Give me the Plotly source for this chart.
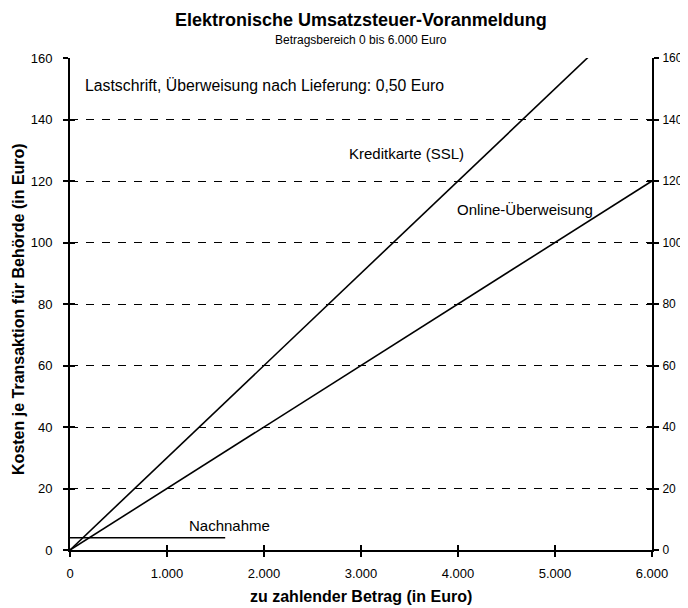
import plotly.graph_objects as go

# Data
betrag = [0, 6000]
kreditkarte = [0, 180]          # 3 % des Betrags
online_ueberweisung = [0, 120]  # 2 % des Betrags
nachnahme_x = [0, 1600]
nachnahme_y = [4, 4]

x_ticks = [0, 1000, 2000, 3000, 4000, 5000, 6000]
y_ticks = [0, 20, 40, 60, 80, 100, 120, 140, 160]

FONT = "Liberation Sans, Arial, sans-serif"
line_style = dict(color="black", width=1.6)

fig = go.Figure()
fig.add_trace(go.Scatter(x=betrag, y=kreditkarte, mode="lines", line=line_style,
                         name="Kreditkarte (SSL)", showlegend=False))
fig.add_trace(go.Scatter(x=betrag, y=online_ueberweisung, mode="lines", line=line_style,
                         name="Online-Überweisung", showlegend=False))
fig.add_trace(go.Scatter(x=nachnahme_x, y=nachnahme_y, mode="lines", line=line_style,
                         name="Nachnahme", showlegend=False))
# invisible helper traces so the extra (tick-only) axes are drawn
for xa, ya in [("x", "y2"), ("x2", "y3"), ("x", "y4")]:
    fig.add_trace(go.Scatter(x=[0], y=[0], xaxis=xa, yaxis=ya, mode="markers",
                             marker=dict(opacity=0), showlegend=False, hoverinfo="skip"))

tick_common = dict(tickwidth=1.5, tickcolor="black", ticklen=5)

# page has an 8px body margin, so the figure is sized 680x600 to fill the 688x608 window
fig.update_layout(
    width=680, height=600,
    margin=dict(l=62, r=36, t=50, b=58),
    paper_bgcolor="white", plot_bgcolor="white",
    font=dict(family=FONT, size=13, color="black"),
    separators=",.",
    showlegend=False,
    xaxis=dict(
        range=[0, 6000], tickvals=x_ticks, tickformat=",d",
        showgrid=False, zeroline=False, automargin=False,
        showline=True, linecolor="black", linewidth=2,
        ticks="outside", ticklabelstandoff=5, tickfont=dict(size=13), **tick_common,
    ),
    xaxis2=dict(
        range=[0, 6000], tickvals=x_ticks, overlaying="x", anchor="y",
        showgrid=False, zeroline=False, showticklabels=False, automargin=False,
        showline=False, ticks="inside", **tick_common,
    ),
    yaxis=dict(
        range=[0, 160], tickvals=y_ticks,
        showgrid=True, gridcolor="black", gridwidth=1, griddash="8px,8px",
        zeroline=False, automargin=False,
        showline=True, linecolor="black", linewidth=2,
        ticks="outside", ticklabelstandoff=8, tickfont=dict(size=13), **tick_common,
    ),
    yaxis2=dict(
        range=[0, 160], tickvals=y_ticks, overlaying="y", side="right",
        showgrid=False, zeroline=False, automargin=False,
        showline=True, linecolor="black", linewidth=2,
        ticks="outside", ticklabelstandoff=1, tickfont=dict(size=12), **tick_common,
    ),
    yaxis3=dict(
        range=[0, 160], tickvals=y_ticks, overlaying="y", side="left",
        showgrid=False, zeroline=False, showticklabels=False, automargin=False,
        showline=False, ticks="inside", **tick_common,
    ),
    yaxis4=dict(
        range=[0, 160], tickvals=y_ticks, overlaying="y", side="right",
        showgrid=False, zeroline=False, showticklabels=False, automargin=False,
        showline=False, ticks="inside", **tick_common,
    ),
)

# Titles
fig.add_annotation(text="<b>Elektronische Umsatzsteuer-Voranmeldung</b>", xref="paper", yref="paper",
                   x=0.5, y=1.0772, xanchor="center", yanchor="middle", showarrow=False,
                   font=dict(size=18, family=FONT, color="black"))
fig.add_annotation(text="Betragsbereich 0 bis 6.000 Euro", xref="paper", yref="paper",
                   x=0.5, y=1.0366, xanchor="center", yanchor="middle", showarrow=False,
                   font=dict(size=12, family=FONT, color="black"))
fig.add_annotation(text="<b>zu zahlender Betrag (in Euro)</b>", xref="paper", yref="paper",
                   x=0.5, y=-0.0955, xanchor="center", yanchor="middle", showarrow=False,
                   font=dict(size=16, family=FONT, color="black"))
fig.add_annotation(text="<b>Kosten je Transaktion für Behörde (in Euro)</b>", xref="paper", yref="paper",
                   x=-0.0876, y=0.49, xanchor="center", yanchor="middle", textangle=-90, showarrow=False,
                   font=dict(size=16, family=FONT, color="black"))

annots = [
    ("Lastschrift, Überweisung nach Lieferung: 0,50 Euro", 131, 151.2, 15.8),
    ("Kreditkarte (SSL)", 2856, 128.8, 15),
    ("Online-Überweisung", 3969, 110.6, 15),
    ("Nachnahme", 1206, 8.1, 15),
]
for text, ax, ay, fs in annots:
    fig.add_annotation(x=ax, y=ay, text=text, showarrow=False, xanchor="left", yanchor="middle",
                       font=dict(size=fs, family=FONT, color="black"))

fig.write_html("out.html")
